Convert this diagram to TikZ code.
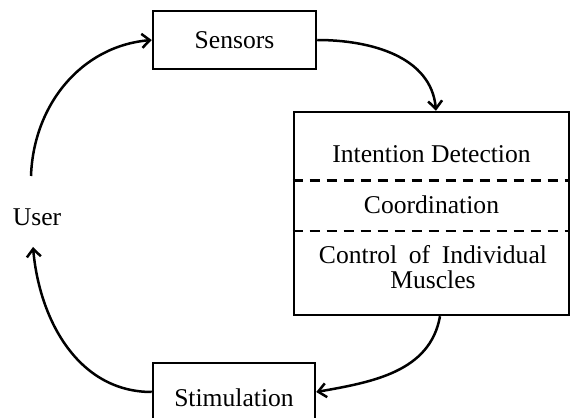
\documentclass[tikz,border=0pt]{standalone}
\usepackage{fontspec}
\setmainfont{Liberation Serif}
\usetikzlibrary{arrows.meta,calc,positioning}
\tikzset{
  block/.style={draw=black,line width=1.25pt,rectangle,inner sep=0pt,
    font=\fontsize{12.8}{12.5}\selectfont,align=center},
  label/.style={font=\fontsize{12.8}{12.5}\selectfont,align=center,inner sep=1pt},
  flow/.style={-{Straight Barb[length=4pt,width=7pt,line width=1.25pt]},line width=1.25pt},
  layer/.style={line width=1.25pt,dash pattern=on 5pt off 3.5pt}
}

\begin{document}
\begin{tikzpicture}[x=0.5pt,y=0.5pt]
  \useasboundingbox (0,0) rectangle (570,418);
  \node[block,minimum width=81.5pt,minimum height=29pt] (sensors) at (234.5,378) {Sensors};
  \node[block,minimum width=137.5pt,minimum height=101.5pt] (ctrl) at (431.5,204.5) {};
  \node[block,minimum width=81pt,minimum height=35pt] (stim) at (234,20) {Stimulation};
  \node[label] (user) at (37,201) {User};
  \node[label] (intent) at (431.5,264) {Intention Detection};
  \node[label] (coord) at (431.5,213) {Coordination};
  \node[label] (muscle) at (433,151) {\hbox to 114pt{Control\hfill of\hfill Individual}\\Muscles};
  \coordinate (userup) at (31,242);
  \coordinate (userdown) at (33,171);
  \draw[layer] ($(ctrl.north west)!0.34!(ctrl.south west)$) -- ($(ctrl.north east)!0.34!(ctrl.south east)$);
  \draw[layer] ($(ctrl.north west)!0.586!(ctrl.south west)$) -- ($(ctrl.north east)!0.586!(ctrl.south east)$);
  \draw[flow] (userup) to[out=88,in=185] (sensors.west);
  \draw[flow] (sensors.east) to[out=0,in=95] ([xshift=2.25pt]ctrl.north);
  \draw[flow] ([xshift=4.25pt]ctrl.south) to[out=-100,in=10] ([yshift=3pt]stim.east);
  \draw[flow] ([yshift=3pt]stim.west) to[out=180,in=-85] (userdown);
\end{tikzpicture}
\end{document}
